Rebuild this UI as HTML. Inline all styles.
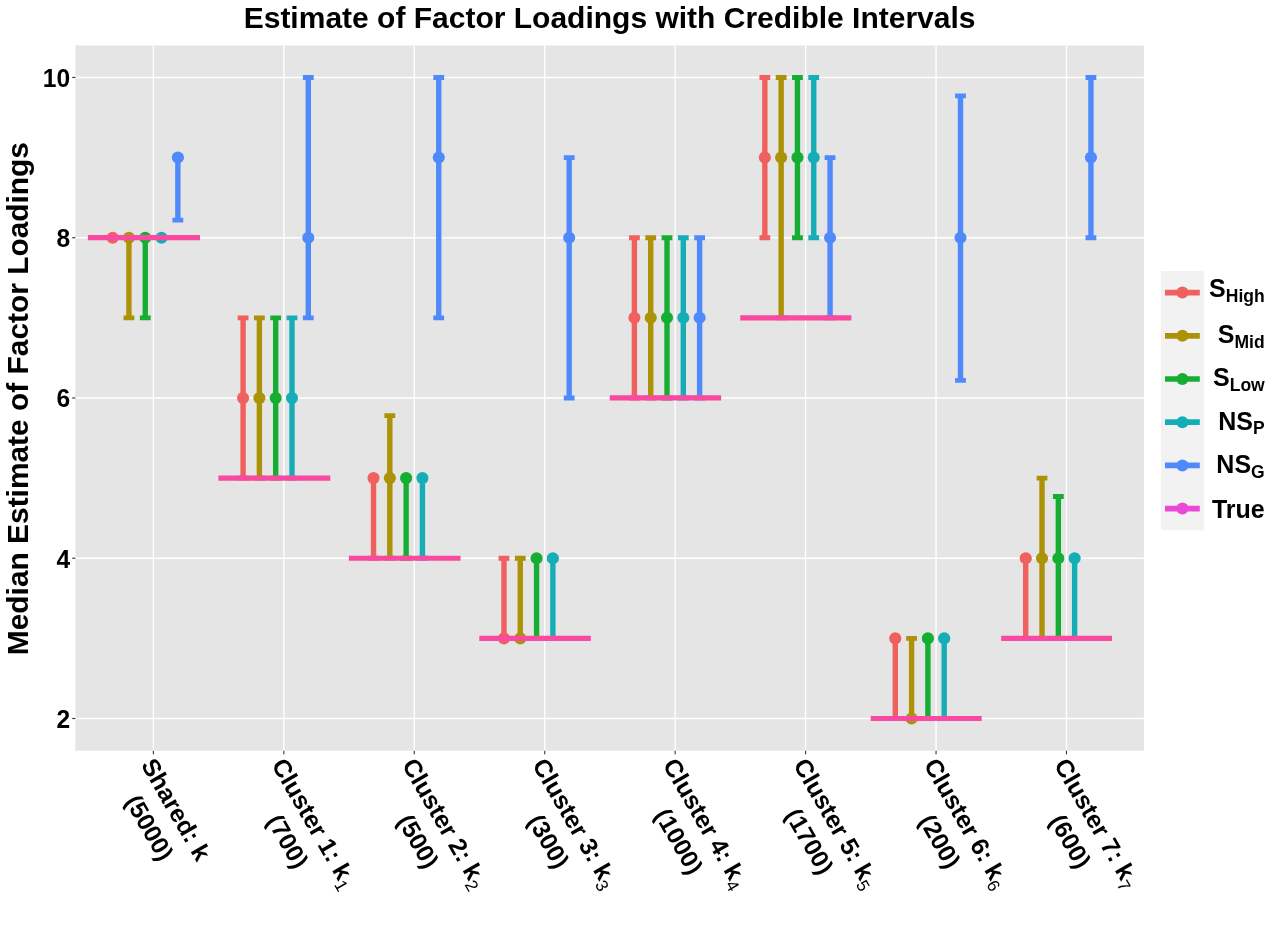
<!DOCTYPE html>
<html lang="en"><head><meta charset="utf-8"><title>Estimate of Factor Loadings with Credible Intervals</title>
<style>html,body{margin:0;padding:0;background:#fff}body{width:1276px;height:950px;overflow:hidden}svg{display:block}</style></head>
<body>
<svg width="1276" height="950" viewBox="0 0 1276 950">
<rect x="0" y="0" width="1276" height="950" fill="#fff"/>
<rect x="75.4" y="45.5" width="1068.5" height="705.2" fill="#E5E5E5"/>
<g stroke="#fff" stroke-width="1.35" fill="none">
<path d="M75.4 718.49H1143.9"/>
<path d="M75.4 558.23H1143.9"/>
<path d="M75.4 397.97H1143.9"/>
<path d="M75.4 237.71H1143.9"/>
<path d="M75.4 77.45H1143.9"/>
<path d="M153.40 45.5V750.7"/>
<path d="M283.84 45.5V750.7"/>
<path d="M414.28 45.5V750.7"/>
<path d="M544.72 45.5V750.7"/>
<path d="M675.16 45.5V750.7"/>
<path d="M805.60 45.5V750.7"/>
<path d="M936.04 45.5V750.7"/>
<path d="M1066.48 45.5V750.7"/>
</g>
<g stroke="#333" stroke-width="1.1" fill="none">
<path d="M72.2 718.49H75.4"/>
<path d="M72.2 558.23H75.4"/>
<path d="M72.2 397.97H75.4"/>
<path d="M72.2 237.71H75.4"/>
<path d="M72.2 77.45H75.4"/>
<path d="M153.40 750.7V754.3"/>
<path d="M283.84 750.7V754.3"/>
<path d="M414.28 750.7V754.3"/>
<path d="M544.72 750.7V754.3"/>
<path d="M675.16 750.7V754.3"/>
<path d="M805.60 750.7V754.3"/>
<path d="M936.04 750.7V754.3"/>
<path d="M1066.48 750.7V754.3"/>
</g>
<g stroke="#AB9206" stroke-width="5.4" fill="none"><path d="M128.94 317.84V237.71"/><path d="M123.54 237.71h10.8M123.54 317.84h10.8" stroke-width="4.9"/></g>
<g stroke="#16AE32" stroke-width="5.4" fill="none"><path d="M145.25 317.84V237.71"/><path d="M139.85 237.71h10.8M139.85 317.84h10.8" stroke-width="4.9"/></g>
<g stroke="#5089FA" stroke-width="5.4" fill="none"><path d="M177.86 220.08V157.58"/><path d="M172.46 157.58h10.8M172.46 220.08h10.8" stroke-width="4.9"/></g>
<g stroke="#F0605E" stroke-width="5.4" fill="none"><path d="M243.08 478.10V317.84"/><path d="M237.68 317.84h10.8M237.68 478.10h10.8" stroke-width="4.9"/></g>
<g stroke="#AB9206" stroke-width="5.4" fill="none"><path d="M259.38 478.10V317.84"/><path d="M253.98 317.84h10.8M253.98 478.10h10.8" stroke-width="4.9"/></g>
<g stroke="#16AE32" stroke-width="5.4" fill="none"><path d="M275.69 478.10V317.84"/><path d="M270.29 317.84h10.8M270.29 478.10h10.8" stroke-width="4.9"/></g>
<g stroke="#16AEB6" stroke-width="5.4" fill="none"><path d="M291.99 478.10V317.84"/><path d="M286.59 317.84h10.8M286.59 478.10h10.8" stroke-width="4.9"/></g>
<g stroke="#5089FA" stroke-width="5.4" fill="none"><path d="M308.30 317.84V77.45"/><path d="M302.90 77.45h10.8M302.90 317.84h10.8" stroke-width="4.9"/></g>
<g stroke="#F0605E" stroke-width="5.4" fill="none"><path d="M373.52 558.23V478.10"/><path d="M368.12 478.10h10.8M368.12 558.23h10.8" stroke-width="4.9"/></g>
<g stroke="#AB9206" stroke-width="5.4" fill="none"><path d="M389.82 558.23V415.60"/><path d="M384.42 415.60h10.8M384.42 558.23h10.8" stroke-width="4.9"/></g>
<g stroke="#16AE32" stroke-width="5.4" fill="none"><path d="M406.13 558.23V478.10"/><path d="M400.73 478.10h10.8M400.73 558.23h10.8" stroke-width="4.9"/></g>
<g stroke="#16AEB6" stroke-width="5.4" fill="none"><path d="M422.43 558.23V478.10"/><path d="M417.03 478.10h10.8M417.03 558.23h10.8" stroke-width="4.9"/></g>
<g stroke="#5089FA" stroke-width="5.4" fill="none"><path d="M438.74 317.84V77.45"/><path d="M433.34 77.45h10.8M433.34 317.84h10.8" stroke-width="4.9"/></g>
<g stroke="#F0605E" stroke-width="5.4" fill="none"><path d="M503.96 638.36V558.23"/><path d="M498.56 558.23h10.8M498.56 638.36h10.8" stroke-width="4.9"/></g>
<g stroke="#AB9206" stroke-width="5.4" fill="none"><path d="M520.26 638.36V558.23"/><path d="M514.86 558.23h10.8M514.86 638.36h10.8" stroke-width="4.9"/></g>
<g stroke="#16AE32" stroke-width="5.4" fill="none"><path d="M536.57 638.36V558.23"/><path d="M531.17 558.23h10.8M531.17 638.36h10.8" stroke-width="4.9"/></g>
<g stroke="#16AEB6" stroke-width="5.4" fill="none"><path d="M552.87 638.36V558.23"/><path d="M547.47 558.23h10.8M547.47 638.36h10.8" stroke-width="4.9"/></g>
<g stroke="#5089FA" stroke-width="5.4" fill="none"><path d="M569.18 397.97V157.58"/><path d="M563.78 157.58h10.8M563.78 397.97h10.8" stroke-width="4.9"/></g>
<g stroke="#F0605E" stroke-width="5.4" fill="none"><path d="M634.40 397.97V237.71"/><path d="M629.00 237.71h10.8M629.00 397.97h10.8" stroke-width="4.9"/></g>
<g stroke="#AB9206" stroke-width="5.4" fill="none"><path d="M650.70 397.97V237.71"/><path d="M645.30 237.71h10.8M645.30 397.97h10.8" stroke-width="4.9"/></g>
<g stroke="#16AE32" stroke-width="5.4" fill="none"><path d="M667.01 397.97V237.71"/><path d="M661.61 237.71h10.8M661.61 397.97h10.8" stroke-width="4.9"/></g>
<g stroke="#16AEB6" stroke-width="5.4" fill="none"><path d="M683.31 397.97V237.71"/><path d="M677.91 237.71h10.8M677.91 397.97h10.8" stroke-width="4.9"/></g>
<g stroke="#5089FA" stroke-width="5.4" fill="none"><path d="M699.62 397.97V237.71"/><path d="M694.22 237.71h10.8M694.22 397.97h10.8" stroke-width="4.9"/></g>
<g stroke="#F0605E" stroke-width="5.4" fill="none"><path d="M764.84 237.71V77.45"/><path d="M759.44 77.45h10.8M759.44 237.71h10.8" stroke-width="4.9"/></g>
<g stroke="#AB9206" stroke-width="5.4" fill="none"><path d="M781.14 317.84V77.45"/><path d="M775.74 77.45h10.8M775.74 317.84h10.8" stroke-width="4.9"/></g>
<g stroke="#16AE32" stroke-width="5.4" fill="none"><path d="M797.45 237.71V77.45"/><path d="M792.05 77.45h10.8M792.05 237.71h10.8" stroke-width="4.9"/></g>
<g stroke="#16AEB6" stroke-width="5.4" fill="none"><path d="M813.75 237.71V77.45"/><path d="M808.35 77.45h10.8M808.35 237.71h10.8" stroke-width="4.9"/></g>
<g stroke="#5089FA" stroke-width="5.4" fill="none"><path d="M830.06 317.84V157.58"/><path d="M824.66 157.58h10.8M824.66 317.84h10.8" stroke-width="4.9"/></g>
<g stroke="#F0605E" stroke-width="5.4" fill="none"><path d="M895.28 718.49V638.36"/><path d="M889.88 638.36h10.8M889.88 718.49h10.8" stroke-width="4.9"/></g>
<g stroke="#AB9206" stroke-width="5.4" fill="none"><path d="M911.58 718.49V638.36"/><path d="M906.18 638.36h10.8M906.18 718.49h10.8" stroke-width="4.9"/></g>
<g stroke="#16AE32" stroke-width="5.4" fill="none"><path d="M927.89 718.49V638.36"/><path d="M922.49 638.36h10.8M922.49 718.49h10.8" stroke-width="4.9"/></g>
<g stroke="#16AEB6" stroke-width="5.4" fill="none"><path d="M944.19 718.49V638.36"/><path d="M938.79 638.36h10.8M938.79 718.49h10.8" stroke-width="4.9"/></g>
<g stroke="#5089FA" stroke-width="5.4" fill="none"><path d="M960.50 380.34V95.88"/><path d="M955.10 95.88h10.8M955.10 380.34h10.8" stroke-width="4.9"/></g>
<g stroke="#F0605E" stroke-width="5.4" fill="none"><path d="M1025.72 638.36V558.23"/><path d="M1020.32 558.23h10.8M1020.32 638.36h10.8" stroke-width="4.9"/></g>
<g stroke="#AB9206" stroke-width="5.4" fill="none"><path d="M1042.02 638.36V478.10"/><path d="M1036.62 478.10h10.8M1036.62 638.36h10.8" stroke-width="4.9"/></g>
<g stroke="#16AE32" stroke-width="5.4" fill="none"><path d="M1058.33 638.36V496.53"/><path d="M1052.93 496.53h10.8M1052.93 638.36h10.8" stroke-width="4.9"/></g>
<g stroke="#16AEB6" stroke-width="5.4" fill="none"><path d="M1074.63 638.36V558.23"/><path d="M1069.23 558.23h10.8M1069.23 638.36h10.8" stroke-width="4.9"/></g>
<g stroke="#5089FA" stroke-width="5.4" fill="none"><path d="M1090.94 237.71V77.45"/><path d="M1085.54 77.45h10.8M1085.54 237.71h10.8" stroke-width="4.9"/></g>
<circle cx="112.64" cy="237.71" r="6.05" fill="#F0605E"/>
<circle cx="128.94" cy="237.71" r="6.05" fill="#AB9206"/>
<circle cx="145.25" cy="237.71" r="6.05" fill="#16AE32"/>
<circle cx="161.55" cy="237.71" r="6.05" fill="#16AEB6"/>
<circle cx="177.86" cy="157.58" r="6.05" fill="#5089FA"/>
<circle cx="243.08" cy="397.97" r="6.05" fill="#F0605E"/>
<circle cx="259.38" cy="397.97" r="6.05" fill="#AB9206"/>
<circle cx="275.69" cy="397.97" r="6.05" fill="#16AE32"/>
<circle cx="291.99" cy="397.97" r="6.05" fill="#16AEB6"/>
<circle cx="308.30" cy="237.71" r="6.05" fill="#5089FA"/>
<circle cx="373.52" cy="478.10" r="6.05" fill="#F0605E"/>
<circle cx="389.82" cy="478.10" r="6.05" fill="#AB9206"/>
<circle cx="406.13" cy="478.10" r="6.05" fill="#16AE32"/>
<circle cx="422.43" cy="478.10" r="6.05" fill="#16AEB6"/>
<circle cx="438.74" cy="157.58" r="6.05" fill="#5089FA"/>
<circle cx="503.96" cy="638.36" r="6.05" fill="#F0605E"/>
<circle cx="520.26" cy="638.36" r="6.05" fill="#AB9206"/>
<circle cx="536.57" cy="558.23" r="6.05" fill="#16AE32"/>
<circle cx="552.87" cy="558.23" r="6.05" fill="#16AEB6"/>
<circle cx="569.18" cy="237.71" r="6.05" fill="#5089FA"/>
<circle cx="634.40" cy="317.84" r="6.05" fill="#F0605E"/>
<circle cx="650.70" cy="317.84" r="6.05" fill="#AB9206"/>
<circle cx="667.01" cy="317.84" r="6.05" fill="#16AE32"/>
<circle cx="683.31" cy="317.84" r="6.05" fill="#16AEB6"/>
<circle cx="699.62" cy="317.84" r="6.05" fill="#5089FA"/>
<circle cx="764.84" cy="157.58" r="6.05" fill="#F0605E"/>
<circle cx="781.14" cy="157.58" r="6.05" fill="#AB9206"/>
<circle cx="797.45" cy="157.58" r="6.05" fill="#16AE32"/>
<circle cx="813.75" cy="157.58" r="6.05" fill="#16AEB6"/>
<circle cx="830.06" cy="237.71" r="6.05" fill="#5089FA"/>
<circle cx="895.28" cy="638.36" r="6.05" fill="#F0605E"/>
<circle cx="911.58" cy="718.49" r="6.05" fill="#AB9206"/>
<circle cx="927.89" cy="638.36" r="6.05" fill="#16AE32"/>
<circle cx="944.19" cy="638.36" r="6.05" fill="#16AEB6"/>
<circle cx="960.50" cy="237.71" r="6.05" fill="#5089FA"/>
<circle cx="1025.72" cy="558.23" r="6.05" fill="#F0605E"/>
<circle cx="1042.02" cy="558.23" r="6.05" fill="#AB9206"/>
<circle cx="1058.33" cy="558.23" r="6.05" fill="#16AE32"/>
<circle cx="1074.63" cy="558.23" r="6.05" fill="#16AEB6"/>
<circle cx="1090.94" cy="157.58" r="6.05" fill="#5089FA"/>
<path d="M87.90 237.71H200.00" stroke="#FA49A1" stroke-width="5.2" fill="none"/>
<path d="M218.37 478.10H330.28" stroke="#FA49A1" stroke-width="5.2" fill="none"/>
<path d="M348.84 558.23H460.56" stroke="#FA49A1" stroke-width="5.2" fill="none"/>
<path d="M479.31 638.36H590.84" stroke="#FA49A1" stroke-width="5.2" fill="none"/>
<path d="M609.78 397.97H721.12" stroke="#FA49A1" stroke-width="5.2" fill="none"/>
<path d="M740.25 317.84H851.40" stroke="#FA49A1" stroke-width="5.2" fill="none"/>
<path d="M870.72 718.49H981.68" stroke="#FA49A1" stroke-width="5.2" fill="none"/>
<path d="M1001.19 638.36H1111.96" stroke="#FA49A1" stroke-width="5.2" fill="none"/>
<g font-family="Liberation Sans, Arial, Helvetica, sans-serif" font-weight="bold" fill="#000">
<text x="609.6" y="27.9" font-size="30" text-anchor="middle">Estimate of Factor Loadings with Credible Intervals</text>
<text transform="translate(27.5,398.6) rotate(-90)" font-size="29.9" text-anchor="middle">Median Estimate of Factor Loadings</text>
<text transform="translate(70.2,727.8) scale(1,1.045)" font-size="24.6" text-anchor="end">2</text>
<text transform="translate(70.2,567.5) scale(1,1.045)" font-size="24.6" text-anchor="end">4</text>
<text transform="translate(70.2,407.3) scale(1,1.045)" font-size="24.6" text-anchor="end">6</text>
<text transform="translate(70.2,247.0) scale(1,1.045)" font-size="24.6" text-anchor="end">8</text>
<text transform="translate(70.2,86.8) scale(1,1.045)" font-size="24.6" text-anchor="end">10</text>
<g transform="translate(153.40,758.7) rotate(60)">
<text x="-1.2" y="14.2" font-size="24.8" text-anchor="start">Shared: k</text>
<text x="57.8" y="46.4" font-size="24.5" text-anchor="middle">(5000)</text>
</g>
<g transform="translate(283.84,758.7) rotate(60)">
<text x="-1.2" y="14.2" font-size="24.8" text-anchor="start">Cluster 1: k<tspan font-size="17.2" dy="5.5" font-weight="normal">1</tspan></text>
<text x="73.5" y="46.4" font-size="24.5" text-anchor="middle">(700)</text>
</g>
<g transform="translate(414.28,758.7) rotate(60)">
<text x="-1.2" y="14.2" font-size="24.8" text-anchor="start">Cluster 2: k<tspan font-size="17.2" dy="5.5" font-weight="normal">2</tspan></text>
<text x="73.5" y="46.4" font-size="24.5" text-anchor="middle">(500)</text>
</g>
<g transform="translate(544.72,758.7) rotate(60)">
<text x="-1.2" y="14.2" font-size="24.8" text-anchor="start">Cluster 3: k<tspan font-size="17.2" dy="5.5" font-weight="normal">3</tspan></text>
<text x="73.5" y="46.4" font-size="24.5" text-anchor="middle">(300)</text>
</g>
<g transform="translate(675.16,758.7) rotate(60)">
<text x="-1.2" y="14.2" font-size="24.8" text-anchor="start">Cluster 4: k<tspan font-size="17.2" dy="5.5" font-weight="normal">4</tspan></text>
<text x="73.5" y="46.4" font-size="24.5" text-anchor="middle">(1000)</text>
</g>
<g transform="translate(805.60,758.7) rotate(60)">
<text x="-1.2" y="14.2" font-size="24.8" text-anchor="start">Cluster 5: k<tspan font-size="17.2" dy="5.5" font-weight="normal">5</tspan></text>
<text x="73.5" y="46.4" font-size="24.5" text-anchor="middle">(1700)</text>
</g>
<g transform="translate(936.04,758.7) rotate(60)">
<text x="-1.2" y="14.2" font-size="24.8" text-anchor="start">Cluster 6: k<tspan font-size="17.2" dy="5.5" font-weight="normal">6</tspan></text>
<text x="73.5" y="46.4" font-size="24.5" text-anchor="middle">(200)</text>
</g>
<g transform="translate(1066.48,758.7) rotate(60)">
<text x="-1.2" y="14.2" font-size="24.8" text-anchor="start">Cluster 7: k<tspan font-size="17.2" dy="5.5" font-weight="normal">7</tspan></text>
<text x="73.5" y="46.4" font-size="24.5" text-anchor="middle">(600)</text>
</g>
</g>
<rect x="1161.0" y="271.0" width="42.9" height="259.2" fill="#F2F2F2"/>
<g font-family="Liberation Sans, Arial, Helvetica, sans-serif" font-weight="bold" fill="#000">
<path d="M1165 292.60H1199.8" stroke="#F0605E" stroke-width="5.7" fill="none"/><circle cx="1182.4" cy="292.60" r="6" fill="#F0605E"/>
<text x="1264.7" y="297.4" font-size="25" text-anchor="end">S<tspan font-size="17.5" dy="4.8">High</tspan></text>
<path d="M1165 335.80H1199.8" stroke="#AB9206" stroke-width="5.7" fill="none"/><circle cx="1182.4" cy="335.80" r="6" fill="#AB9206"/>
<text x="1264.7" y="343.1" font-size="25" text-anchor="end">S<tspan font-size="17.5" dy="4.8">Mid</tspan></text>
<path d="M1165 379.00H1199.8" stroke="#16AE32" stroke-width="5.7" fill="none"/><circle cx="1182.4" cy="379.00" r="6" fill="#16AE32"/>
<text x="1264.7" y="386.3" font-size="25" text-anchor="end">S<tspan font-size="17.5" dy="4.8">Low</tspan></text>
<path d="M1165 422.20H1199.8" stroke="#16AEB6" stroke-width="5.7" fill="none"/><circle cx="1182.4" cy="422.20" r="6" fill="#16AEB6"/>
<text x="1264.7" y="429.5" font-size="25" text-anchor="end">NS<tspan font-size="17.5" dy="4.8">P</tspan></text>
<path d="M1165 465.40H1199.8" stroke="#5089FA" stroke-width="5.7" fill="none"/><circle cx="1182.4" cy="465.40" r="6" fill="#5089FA"/>
<text x="1264.7" y="472.7" font-size="25" text-anchor="end">NS<tspan font-size="17.5" dy="4.8">G</tspan></text>
<path d="M1165 508.60H1199.8" stroke="#EB48D8" stroke-width="5.7" fill="none"/><circle cx="1182.4" cy="508.60" r="6" fill="#EB48D8"/>
<text x="1264.7" y="517.8" font-size="25" text-anchor="end">True</text>
</g>
</svg>
</body></html>
